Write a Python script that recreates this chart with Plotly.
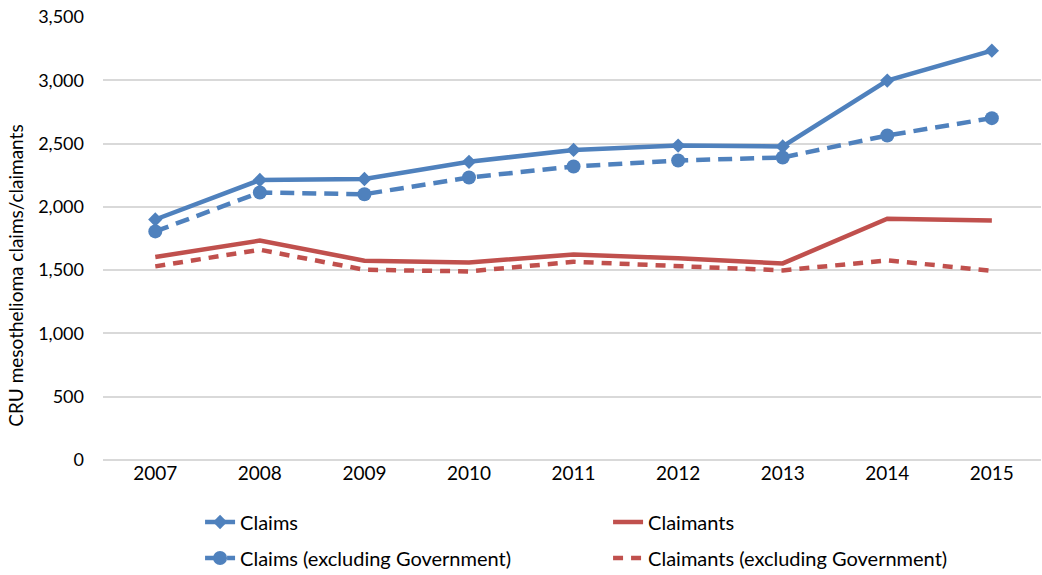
import plotly.graph_objects as go

# CRU mesothelioma claims and claimants by year
years = ["2007", "2008", "2009", "2010", "2011", "2012", "2013", "2014", "2015"]
claims = [1900, 2212, 2220, 2356, 2450, 2484, 2477, 2998, 3234]
claims_excl_gov = [1806, 2114, 2100, 2232, 2319, 2366, 2390, 2564, 2701]
claimants = [1604, 1733, 1575, 1561, 1624, 1593, 1553, 1906, 1893]
claimants_excl_gov = [1530, 1661, 1503, 1490, 1566, 1530, 1498, 1577, 1495]

BLUE = "#4F81BD"
RED = "#C0504D"
FONT = "Lato"
W, H = 1042, 575

fig = go.Figure()
fig.add_trace(go.Scatter(
    x=years, y=claims, name="Claims", mode="lines+markers",
    line=dict(color=BLUE, width=4.5),
    marker=dict(symbol="diamond", size=11, color=BLUE), legend="legend"))
fig.add_trace(go.Scatter(
    x=years, y=claimants, name="Claimants", mode="lines",
    line=dict(color=RED, width=4.5), legend="legend"))
fig.add_trace(go.Scatter(
    x=years, y=claims_excl_gov, name="Claims (excluding Government)",
    mode="lines+markers",
    line=dict(color=BLUE, width=4.5, dash="14px,8px"),
    marker=dict(symbol="circle", size=14, color=BLUE), legend="legend2"))
fig.add_trace(go.Scatter(
    x=years, y=claimants_excl_gov, name="Claimants (excluding Government)",
    mode="lines",
    line=dict(color=RED, width=4.5, dash="10px,8px"), legend="legend2"))

legend_common = dict(
    orientation="h", xref="container", yref="container",
    xanchor="left", yanchor="middle", entrywidth=363,
    font=dict(family=FONT, size=20, color="#000000"),
    bgcolor="rgba(0,0,0,0)", tracegroupgap=0)

fig.update_layout(
    width=W, height=H,
    margin=dict(l=103, r=1, t=17, b=114.5),
    paper_bgcolor="white", plot_bgcolor="white",
    font=dict(family=FONT, size=18, color="#000000"),
    showlegend=True,
    legend=dict(x=0.192, y=1 - 522 / H, **legend_common),
    legend2=dict(x=0.192, y=1 - 558 / H, **legend_common),
    xaxis=dict(
        type="category", range=[-0.5, 8.47],
        showgrid=False, showline=False, zeroline=False, ticks="",
        tickfont=dict(family=FONT, size=19, color="#000000"),
        fixedrange=True),
    yaxis=dict(
        range=[0, 3500], tick0=0, dtick=500, tickformat=",",
        showgrid=True, gridcolor="#D9D9D9", gridwidth=1.5,
        zeroline=True, zerolinecolor="#D9D9D9", zerolinewidth=1.5,
        showline=False, ticks="", ticklabelstandoff=18,
        tickfont=dict(family=FONT, size=18, color="#000000"),
        fixedrange=True),
    annotations=[dict(
        text="CRU mesothelioma claims/claimants", textangle=-90,
        xref="paper", yref="paper", x=(16 - 103) / (W - 104),
        y=1 - (276 - 17) / (H - 17 - 114.5),
        xanchor="center", yanchor="middle", showarrow=False,
        font=dict(family=FONT, size=19, color="#000000"))],
)

fig.write_html("out.html")
